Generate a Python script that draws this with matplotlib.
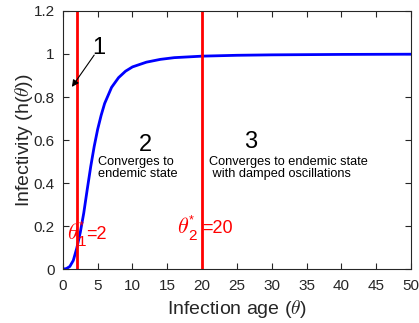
import numpy as np
import matplotlib
matplotlib.use('Agg')
import matplotlib.pyplot as plt

plt.rcParams['font.family'] = ['Liberation Sans', 'DejaVu Sans']
plt.rcParams['mathtext.fontset'] = 'cm'

# infectivity curve h(theta)
theta = [0, 0.5, 1, 1.5, 2, 2.5, 3, 3.5, 4, 4.5, 5, 5.5, 6, 7, 8, 9, 10,
         12, 14, 16, 20, 25, 30, 40, 50]
h = [0, 0.002, 0.012, 0.04, 0.097, 0.17, 0.26, 0.37, 0.476, 0.57, 0.65, 0.715,
     0.77, 0.845, 0.89, 0.92, 0.94, 0.962, 0.975, 0.983, 0.99, 0.994, 0.996,
     0.998, 0.999]

# threshold ages
theta1 = 2
theta2 = 20

xticks = np.arange(0, 51, 5)
yticks = [0, 0.2, 0.4, 0.6, 0.8, 1, 1.2]
ytick_labels = ['0', '0.2', '0.4', '0.6', '0.8', '1', '1.2']

fig = plt.figure(figsize=(4.19, 3.23), dpi=100)
ax = fig.add_axes([0.150, 0.167, 0.831, 0.799])

ax.plot(theta, h, color='blue', lw=2)
ax.axvline(theta1, color='red', lw=2)
ax.axvline(theta2, color='red', lw=2)

ax.set_xlim(0, 50)
ax.set_ylim(0, 1.2)
ax.set_xticks(xticks)
ax.set_yticks(yticks)
ax.set_yticklabels(ytick_labels)
ax.tick_params(direction='in', length=4, width=0.8, labelsize=11,
               colors='#262626', top=True, right=True)
ax.tick_params(axis='x', pad=7)
ax.tick_params(axis='y', pad=6)
for s in ax.spines.values():
    s.set_color('#262626')
    s.set_linewidth(0.8)

ax.set_xlabel(r'Infection age ($\theta$)', fontsize=14, color='#262626', labelpad=4)
ax.set_ylabel(r'Infectivity (h($\theta$))', fontsize=14, color='#262626', labelpad=-1)

# region annotations
ax.annotate('', xy=(1.3, 0.847), xytext=(4.5, 0.995),
            arrowprops=dict(arrowstyle='-|>', color='black', lw=0.8,
                            mutation_scale=10, shrinkA=0, shrinkB=0))
ax.text(5.2, 1.03, '1', fontsize=17, ha='center', va='center')
ax.text(11.9, 0.577, '2', fontsize=17, ha='center', va='center')
ax.text(5.0, 0.47, 'Converges to\nendemic state', fontsize=9.2,
        ha='left', va='center', linespacing=0.92)
ax.text(27.0, 0.59, '3', fontsize=17, ha='center', va='center')
ax.text(21.0, 0.47, 'Converges to endemic state\n with damped oscillations',
        fontsize=9.2, ha='left', va='center', linespacing=0.92)


def threshold_label(x, y, sub, value, dx_theta, dx_eq):
    # theta with star superscript and subscript index, then "=value"
    pt = 72 / 100
    kw = dict(xy=(x, y), textcoords='offset points', color='red',
              ha='left', va='baseline')
    ax.annotate(r'$\theta$', xytext=(dx_theta * pt, 0), fontsize=16, **kw)
    ax.annotate('*', xytext=((dx_theta + 12) * pt, 10 * pt), fontsize=9, **kw)
    ax.annotate(sub, xytext=((dx_theta + 11) * pt, -7 * pt), fontsize=11, **kw)
    ax.annotate('=' + str(value), xytext=(dx_eq * pt, 0), fontsize=13, **kw)


threshold_label(theta1, 0.14, '1', theta1, -10, 9)
threshold_label(theta2, 0.167, '2', theta2, -25, 0)

fig.savefig('out.png', dpi=100)
